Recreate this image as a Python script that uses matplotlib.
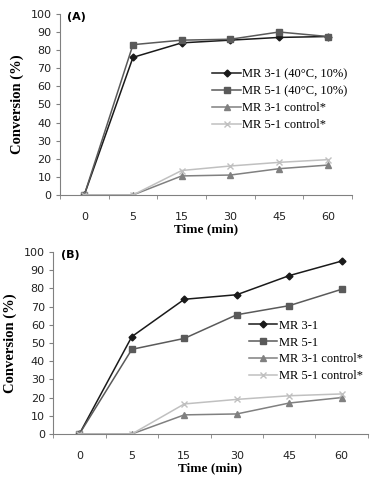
import numpy as np
import matplotlib
matplotlib.use('Agg')
import matplotlib.pyplot as plt

times = ['0', '5', '15', '30', '45', '60']

# panel A
a_mr31 = [0, 76, 84, 85.5, 87, 87.5]
a_mr51 = [0, 83, 85.5, 86, 90, 87.5]
a_mr31_ctrl = [0, 0, 10.5, 11, 14.5, 16.5]
a_mr51_ctrl = [0, 0, 13.5, 16, 18, 19.5]
a_labels = ['MR 3-1 (40\u00b0C, 10%)', 'MR 5-1 (40\u00b0C, 10%)',
            'MR 3-1 control*', 'MR 5-1 control*']

# panel B
b_mr31 = [0, 53.5, 74, 76.5, 87, 95]
b_mr51 = [0, 46.5, 52.5, 65.5, 70.5, 79.5]
b_mr31_ctrl = [0, 0, 10.5, 11, 17, 20]
b_mr51_ctrl = [0, 0, 16.5, 19, 21, 22]
b_labels = ['MR 3-1', 'MR 5-1', 'MR 3-1 control*', 'MR 5-1 control*']

styles = [dict(c='#1a1a1a', marker='D', ms=3.5),
          dict(c='#5a5a5a', marker='s', ms=4),
          dict(c='#808080', marker='^', ms=4),
          dict(c='#c0c0c0', marker='x', ms=5, mew=1)]

serif = 'Liberation Serif'
sans = 'DejaVu Sans'

fig = plt.figure(figsize=(3.77, 4.79), dpi=100)
axA = fig.add_axes([0.159, 0.593, 0.775, 0.378])
axB = fig.add_axes([0.141, 0.094, 0.835, 0.380])


def draw(ax, series, labels, tag, leg_anchor):
    x = np.arange(len(times))
    for ys, lab, st in zip(series, labels, styles):
        ax.plot(x, ys, lw=1.1, label=lab, **st)
    ax.set_xlim(-0.5, len(times) - 0.5)
    ax.set_ylim(0, 100)
    ax.set_yticks(range(0, 101, 10))
    ax.set_xticks(x)
    ax.set_xticklabels(times)
    ax.set_xticks(np.arange(-0.5, len(times), 1), minor=True)
    ax.tick_params(axis='x', which='major', length=0, pad=12)
    ax.tick_params(axis='x', which='minor', length=3, color='#808080')
    ax.tick_params(axis='y', length=3, color='#808080', pad=3)
    for t in ax.get_xticklabels() + ax.get_yticklabels():
        t.set_fontfamily(sans)
        t.set_fontsize(8)
        t.set_color('#222222')
    ax.spines['right'].set_visible(False)
    ax.spines['top'].set_visible(False)
    ax.spines['left'].set_color('#808080')
    ax.spines['bottom'].set_color('#808080')
    ax.set_xlabel('Time (min)', fontfamily=serif, fontweight='bold', fontsize=9.5, labelpad=1)
    ax.set_ylabel('Conversion (%)', fontfamily=serif, fontweight='bold', fontsize=10.5, labelpad=5)
    ax.text(0.025, 1.012, tag, transform=ax.transAxes, fontfamily=sans,
            fontweight='bold', fontsize=8, va='top', ha='left')
    ax.legend(loc='upper left', bbox_to_anchor=leg_anchor, frameon=False,
              prop={'family': serif, 'size': 9}, handlelength=2.3,
              handletextpad=0.1, labelspacing=0.38, borderaxespad=0)


draw(axA, [a_mr31, a_mr51, a_mr31_ctrl, a_mr51_ctrl], a_labels, '(A)', (0.505, 0.725))
draw(axB, [b_mr31, b_mr51, b_mr31_ctrl, b_mr51_ctrl], b_labels, '(B)', (0.605, 0.655))

fig.savefig('out.png', dpi=100)
